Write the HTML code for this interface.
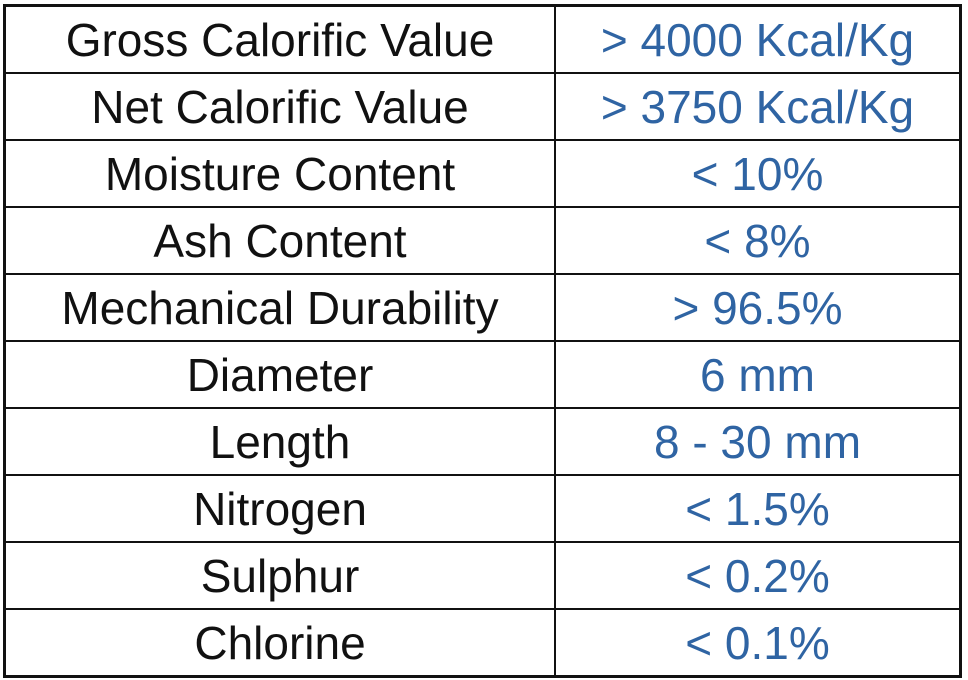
<!DOCTYPE html>
<html><head><meta charset="utf-8"><style>
html,body{margin:0;padding:0;background:#fff;width:968px;height:680px;overflow:hidden}
table{position:absolute;left:3px;top:4px;width:959px;height:673px;border-collapse:collapse;border:3px solid #111;font-family:"Liberation Sans",sans-serif;font-size:46px}
td{border:2px solid #111;text-align:center;vertical-align:middle;padding:0;height:65px;line-height:1}
td.k{width:548px;color:#111}
td.v{color:#2f64a3}
</style></head><body>
<table>
<tr><td class="k">Gross Calorific Value</td><td class="v">&gt; 4000 Kcal/Kg</td></tr>
<tr><td class="k">Net Calorific Value</td><td class="v">&gt; 3750 Kcal/Kg</td></tr>
<tr><td class="k">Moisture Content</td><td class="v">&lt; 10%</td></tr>
<tr><td class="k">Ash Content</td><td class="v">&lt; 8%</td></tr>
<tr><td class="k">Mechanical Durability</td><td class="v">&gt; 96.5%</td></tr>
<tr><td class="k">Diameter</td><td class="v">6 mm</td></tr>
<tr><td class="k">Length</td><td class="v">8 - 30 mm</td></tr>
<tr><td class="k">Nitrogen</td><td class="v">&lt; 1.5%</td></tr>
<tr><td class="k">Sulphur</td><td class="v">&lt; 0.2%</td></tr>
<tr><td class="k">Chlorine</td><td class="v">&lt; 0.1%</td></tr>
</table>
</body></html>
